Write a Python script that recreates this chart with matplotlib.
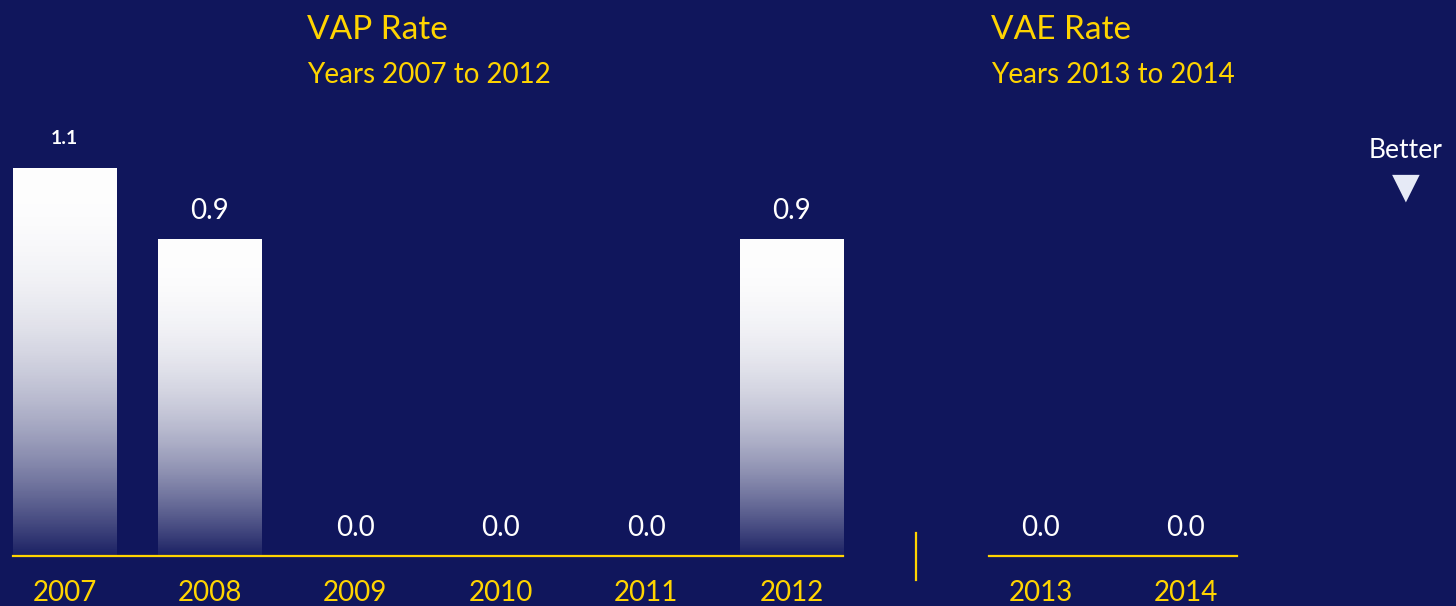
import numpy as np
import matplotlib
matplotlib.use("Agg")
import matplotlib.pyplot as plt
from matplotlib.lines import Line2D

plt.rcParams['font.family'] = ['Lato', 'DejaVu Sans']

# data
vap_years = ['2007', '2008', '2009', '2010', '2011', '2012']
vap_rates = [1.1, 0.9, 0.0, 0.0, 0.0, 0.9]
vae_years = ['2013', '2014']
vae_rates = [0.0, 0.0]

bg = '#10165c'
gold = '#ffd400'

fig = plt.figure(figsize=(14.56, 6.06), dpi=100, facecolor=bg)

W, H = 1456, 606
ax1 = fig.add_axes([13 / W, 50 / H, 830 / W, 388 / H])
ax2 = fig.add_axes([989 / W, 50 / H, 248 / W, 388 / H])

# vertical gradient: white at top, fading into the background at the bottom
t = np.linspace(0, 1, 256)[:, None]
alpha = np.clip(1 - 0.95 * t ** 2.3, 0.03, 1)
grad = np.ones((256, 2, 4))
grad[:, :, 3] = alpha


def draw(ax, years, rates):
    ax.set_facecolor(bg)
    x = np.arange(len(years))
    bw = 0.71
    bars = ax.bar(x, rates, width=bw, color='none', edgecolor='none')
    for b, v in zip(bars, rates):
        if v > 0:
            im = ax.imshow(grad, extent=[b.get_x(), b.get_x() + bw, 0, v],
                           aspect='auto', zorder=2, interpolation='bilinear')
            im.set_clip_path(b)
        if v >= 1:
            ax.annotate(f'{v:.1f}', (b.get_x() + bw / 2, v), xytext=(0, 21),
                        textcoords='offset points', ha='center', va='center',
                        color='white', fontsize=14, fontweight='bold',
                        annotation_clip=False)
        else:
            ax.annotate(f'{v:.1f}', (b.get_x() + bw / 2, v), xytext=(0, 20),
                        textcoords='offset points', ha='center', va='center',
                        color='white', fontsize=20, annotation_clip=False)
    ax.set_xlim(-bw / 2, len(years) - 1 + bw / 2)
    ax.set_ylim(0, 1.1)
    ax.set_xticks(x)
    ax.set_xticklabels(years, color=gold, fontsize=20)
    ax.tick_params(axis='x', length=0, pad=17)
    ax.set_yticks([])
    for s in ['top', 'right', 'left']:
        ax.spines[s].set_visible(False)
    ax.spines['bottom'].set_color(gold)
    ax.spines['bottom'].set_linewidth(1.6)


draw(ax1, vap_years, vap_rates)
draw(ax2, vae_years, vae_rates)

# titles
fig.text(307 / W, 1 - 30 / H, 'VAP Rate', color=gold, fontsize=24, va='center', ha='left')
fig.text(307 / W, 1 - 75 / H, 'Years 2007 to 2012', color=gold, fontsize=20, va='center', ha='left')
fig.text(991 / W, 1 - 30 / H, 'VAE Rate', color=gold, fontsize=24, va='center', ha='left')
fig.text(991 / W, 1 - 75 / H, 'Years 2013 to 2014', color=gold, fontsize=20, va='center', ha='left')

# divider between the two groups
fig.add_artist(Line2D([916 / W, 916 / W], [1 - 533 / H, 1 - 580 / H],
                      color=gold, lw=1.6, transform=fig.transFigure))

# "Better" indicator
fig.text(1406 / W, 1 - 150 / H, 'Better', color='white', fontsize=19, ha='center', va='center')
fig.text(1406 / W, 1 - 188 / H, '\u25bc', color='#e6eaf6', fontsize=26, ha='center', va='center',
         family='DejaVu Sans')

fig.savefig('out.png', dpi=100, facecolor=bg)
